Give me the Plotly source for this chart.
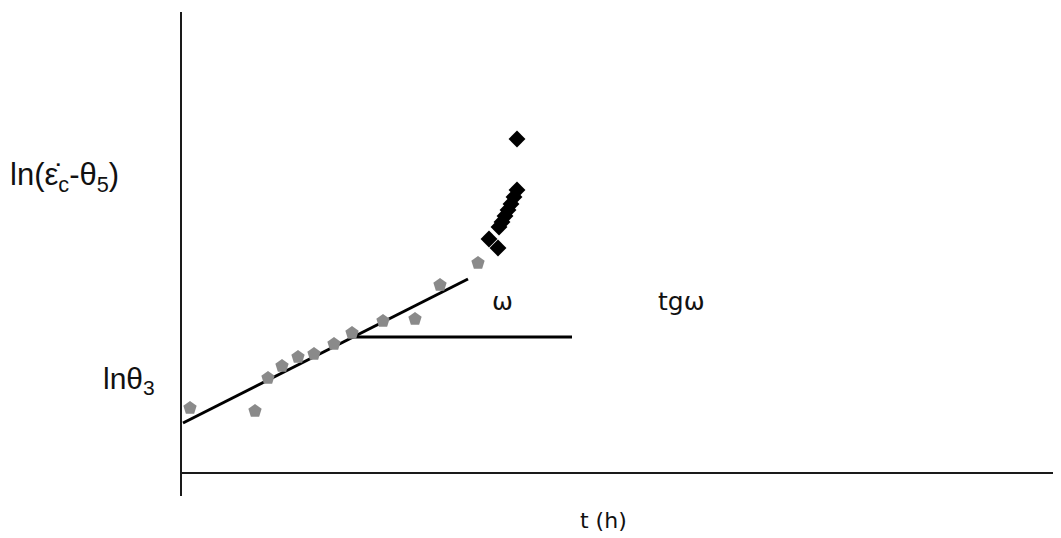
import plotly.graph_objects as go

# data (arbitrary units: t in tenths of px offset, ln values)
t_early = [0.8, 7.3, 8.6, 10.0, 11.6, 13.2, 15.2, 17.0, 20.1, 23.3, 25.8, 29.6]
y_early = [6.5, 6.2, 9.5, 10.7, 11.6, 11.9, 12.9, 14.0, 15.2, 15.4, 18.8, 21.0]
t_late = [30.7, 31.6, 31.7, 32.0, 32.3, 32.6, 32.9, 33.2, 33.5, 33.5]
y_late = [23.4, 22.5, 24.6, 25.1, 25.7, 26.3, 26.9, 27.6, 28.3, 33.4]
fit_t = [0.1, 28.6]
fit_y = [5.0, 19.4]
ref_t = [16.8, 39.0]
ref_y = [13.6, 13.6]

OFF = 8  # page body margin
W, H = 1061, 538
L, R, T, B = 182 - OFF, 0, 12 - OFF, 65 + OFF
PW, PH = W - L - R, H - T - B


def px(x):
    return (x - OFF - L) / PW


def py(y):
    return (H - B - (y - OFF)) / PH


fig = go.Figure()
fig.add_trace(go.Scatter(x=fit_t, y=fit_y, mode="lines",
                         line=dict(color="black", width=3), showlegend=False))
fig.add_trace(go.Scatter(x=ref_t, y=ref_y, mode="lines",
                         line=dict(color="black", width=3), showlegend=False))
fig.add_trace(go.Scatter(x=t_early, y=y_early, mode="markers",
                         marker=dict(symbol="pentagon", size=14, color="#8a8a8a",
                                     line=dict(width=0)),
                         showlegend=False, cliponaxis=False))
fig.add_trace(go.Scatter(x=t_late, y=y_late, mode="markers",
                         marker=dict(symbol="diamond", size=13, color="black",
                                     line=dict(width=0)),
                         showlegend=False, cliponaxis=False))

# axes lines
fig.add_shape(type="line", xref="paper", yref="paper", x0=px(181), x1=px(181),
              y0=py(12), y1=py(496), line=dict(color="#1a1a1a", width=2))
fig.add_shape(type="line", xref="paper", yref="paper", x0=px(181), x1=1,
              y0=py(473), y1=py(473), line=dict(color="#1a1a1a", width=2))

txt = dict(color="#111111")
fig.add_annotation(xref="paper", yref="paper", x=px(8), y=py(177), xanchor="left",
                   yanchor="middle", showarrow=False,
                   text="ln(\u03b5\u0307<sub>c</sub>-\u03b8<sub>5</sub>)",
                   font=dict(family="Liberation Sans, Arial", size=31, **txt))
fig.add_annotation(xref="paper", yref="paper", x=px(157), y=py(380), xanchor="right",
                   yanchor="middle", showarrow=False,
                   text="ln\u03b8<sub>3</sub>",
                   font=dict(family="Liberation Sans, Arial", size=30, **txt))
fig.add_annotation(xref="paper", yref="paper", x=px(502), y=py(302), xanchor="center",
                   yanchor="middle", showarrow=False, text="\u03c9",
                   font=dict(family="DejaVu Sans", size=25, **txt))
fig.add_annotation(xref="paper", yref="paper", x=px(681), y=py(302), xanchor="center",
                   yanchor="middle", showarrow=False, text="tg\u03c9",
                   font=dict(family="DejaVu Sans", size=25, **txt))
fig.add_annotation(xref="paper", yref="paper", x=px(603), y=py(520), xanchor="center",
                   yanchor="middle", showarrow=False, text="t (h)",
                   font=dict(family="DejaVu Sans", size=22, **txt))

fig.update_xaxes(range=[0, PW / 10], visible=False, fixedrange=True)
fig.update_yaxes(range=[0, PH / 10], visible=False, fixedrange=True)
fig.update_layout(width=W, height=H, margin=dict(l=L, r=R, t=T, b=B),
                  plot_bgcolor="white", paper_bgcolor="white")
fig.write_html("out.html")
